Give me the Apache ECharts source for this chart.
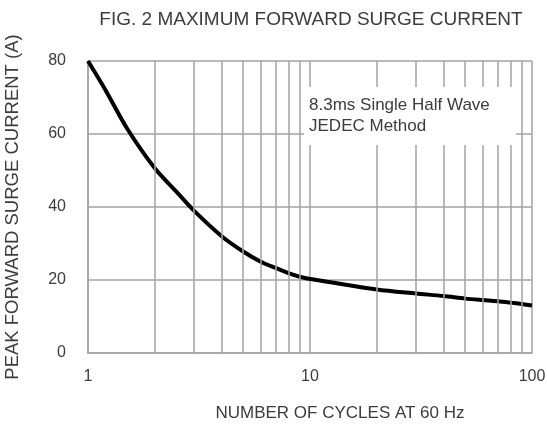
<!DOCTYPE html>
<html>
<head>
<meta charset="utf-8">
<script src="https://cdn.jsdelivr.net/npm/echarts@6/dist/echarts.min.js"></script>
<style>html,body{margin:0;padding:0;background:#fff}#c{width:547px;height:425px}</style>
</head>
<body>
<div id="c"></div>
<script>
// Data
var cycles = [1, 1.2, 1.5, 2, 2.5, 3, 4, 5, 6, 7, 8, 9, 10, 20, 30, 40, 50, 60, 70, 80, 90, 100];
var surgeCurrent = [80, 72, 61.5, 50.6, 44.2, 39, 32, 27.8, 25, 23.3, 21.9, 20.9, 20.3, 17.4, 16.3, 15.6, 14.9, 14.5, 14.2, 13.8, 13.4, 13.0];
var minorGridCycles = [2, 3, 4, 5, 6, 7, 8, 9, 20, 30, 40, 50, 60, 70, 80, 90];
var yTicks = [0, 20, 40, 60, 80];
var noteLines = ['8.3ms Single Half Wave', 'JEDEC Method'];
var noteBoxX = [9.4, 84.7];
var noteBoxY = [57, 72.9];

var FONT = 'Liberation Sans, Arial, sans-serif';
var GRID = '#a3a3a3';
var TXT = '#3c3c3c';

var chart = echarts.init(document.getElementById('c'), null, {renderer: 'canvas'});
chart.setOption({
  backgroundColor: '#fff',
  animation: false,
  title: {
    text: 'FIG. 2 MAXIMUM FORWARD SURGE CURRENT',
    left: 306, top: 5, textAlign: 'center',
    textStyle: {fontFamily: FONT, fontSize: 19, fontWeight: 'normal', color: TXT}
  },
  grid: {left: 88, right: 15, top: 61, bottom: 72, containLabel: false, outerBoundsMode: 'none'},
  xAxis: {
    type: 'log', logBase: 10, min: 1, max: 100,
    name: 'NUMBER OF CYCLES AT 60 Hz', nameLocation: 'middle', nameGap: 52,
    nameTextStyle: {fontFamily: FONT, fontSize: 17, color: TXT, padding: [0, 0, 0, 60]},
    axisLine: {show: true, lineStyle: {color: GRID, width: 1.5}},
    axisTick: {show: false},
    axisLabel: {fontFamily: FONT, fontSize: 16, color: TXT, margin: 16},
    splitLine: {show: true, lineStyle: {color: GRID, width: 1.5}}
  },
  yAxis: {
    type: 'value', min: yTicks[0], max: yTicks[yTicks.length - 1], interval: 20,
    name: 'PEAK FORWARD SURGE CURRENT (A)', nameLocation: 'middle', nameGap: 66,
    nameTextStyle: {fontFamily: FONT, fontSize: 18.5, color: TXT},
    axisLine: {show: true, lineStyle: {color: GRID, width: 1.5}},
    axisTick: {show: false},
    axisLabel: {fontFamily: FONT, fontSize: 16, color: TXT, margin: 22},
    splitLine: {show: true, lineStyle: {color: GRID, width: 1.5}}
  },
  series: [
    {
      type: 'line', z: 1, data: [], silent: true,
      markLine: {
        silent: true, symbol: 'none', label: {show: false},
        lineStyle: {color: GRID, width: 1.5, type: 'solid'},
        data: minorGridCycles.map(function (v) { return {xAxis: v}; })
      }
    },
    {
      type: 'line', z: 3, smooth: 0.3, symbol: 'none',
      lineStyle: {color: '#000', width: 4},
      data: cycles.map(function (c, i) { return [c, surgeCurrent[i]]; })
    }
  ]
});

// Note box placed through the chart's own scales
var p1 = chart.convertToPixel({gridIndex: 0}, [noteBoxX[0], noteBoxY[1]]);
var p2 = chart.convertToPixel({gridIndex: 0}, [noteBoxX[1], noteBoxY[0]]);
chart.setOption({
  graphic: [
    {
      type: 'rect', z: 50, silent: true,
      shape: {x: p1[0], y: p1[1], width: p2[0] - p1[0], height: p2[1] - p1[1]},
      style: {fill: '#ffffff'}
    },
    {
      type: 'text', z: 51, silent: true, x: p1[0] + 5, y: p1[1] + 8,
      style: {text: noteLines.join('\n'), font: '17px ' + FONT, lineHeight: 21, fill: TXT}
    }
  ]
});
</script>
</body>
</html>
